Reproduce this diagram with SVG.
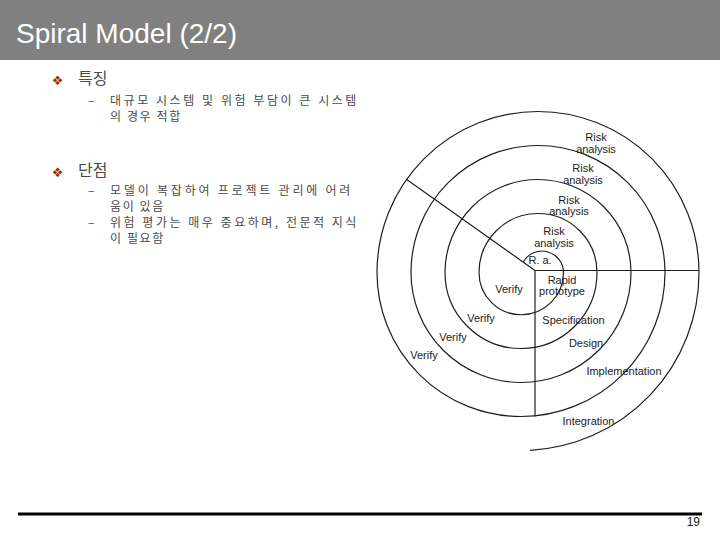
<svg xmlns="http://www.w3.org/2000/svg" width="720" height="540" viewBox="0 0 720 540">
<style>
.kr{font-family:"Noto Sans CJK KR","Noto Sans",sans-serif;fill:#4a4a4a}
.h{font-size:16px}
.b{font-size:12px;letter-spacing:1.6px}
.bul{font-family:"DejaVu Sans",sans-serif;font-size:13px;fill:#993300;text-anchor:middle}
.lbl{font-family:"Liberation Sans",Arial,sans-serif;font-size:11px;fill:#222;text-anchor:middle}
.sp{fill:none;stroke:#1e1e1e;stroke-width:1.2}
</style>
<rect width="720" height="540" fill="#fff"/>
<g id="header">
<rect x="0" y="0" width="720" height="60" fill="#808080"/>
<text x="16" y="43" font-family="Liberation Sans, Arial, sans-serif" font-size="28" fill="#fff">Spiral Model (2/2)</text>
</g>
<g id="text-body">
<text class="bul" x="57.5" y="85">❖</text>
<text class="kr h" x="78" y="84">특징</text>
<text class="kr b" x="88" y="105">–</text>
<text class="kr b" x="110" y="105" textLength="248" lengthAdjust="spacing">대규모 시스템 및 위험 부담이 큰 시스템</text>
<text class="kr b" x="110" y="121">의 경우 적합</text>
<text class="bul" x="57.5" y="177">❖</text>
<text class="kr h" x="78" y="176">단점</text>
<text class="kr b" x="88" y="195">–</text>
<text class="kr b" x="110" y="195" textLength="242" lengthAdjust="spacing">모델이 복잡하여 프로젝트 관리에 어려</text>
<text class="kr b" x="110" y="211">움이 있음</text>
<text class="kr b" x="88" y="227">–</text>
<text class="kr b" x="110" y="227" textLength="248" lengthAdjust="spacing">위험 평가는 매우 중요하며, 전문적 지식</text>
<text class="kr b" x="110" y="243">이 필요함</text>
</g>
<g id="connectors">
<path class="sp" d="M523.2,262.1 A21.5,21.5 0 0 1 563.5,272.5 A42.25,42.25 0 0 1 479,272.5 A59,59 0 0 1 597,272.5 A76,76 0 0 1 445,272.5 A93,93 0 0 1 631,272.5 A110,110 0 0 1 411,272.5 A127,127 0 0 1 665,272.5 A144,144 0 0 1 377,272.5 A161,161 0 0 1 699,272.5 A178,178 0 0 1 530,450.3"/>
<path class="sp" d="M535,270.5 H699 M535,270.5 V416.5 M535,270.5 L406,179"/>
</g>
<g id="risk1"><text class="lbl" x="596" y="141">Risk</text><text class="lbl" x="596" y="152.5">analysis</text></g>
<g id="risk2"><text class="lbl" x="583" y="172">Risk</text><text class="lbl" x="583" y="183.5">analysis</text></g>
<g id="risk3"><text class="lbl" x="569" y="203.5">Risk</text><text class="lbl" x="569" y="215">analysis</text></g>
<g id="risk4"><text class="lbl" x="554" y="235">Risk</text><text class="lbl" x="554" y="246.5">analysis</text></g>
<g id="ra"><text class="lbl" x="540" y="263.5">R. a.</text></g>
<g id="rapid"><text class="lbl" x="562" y="284">Rapid</text><text class="lbl" x="562" y="295">prototype</text></g>
<g id="spec"><text class="lbl" x="573.5" y="324">Specification</text></g>
<g id="design"><text class="lbl" x="586" y="347">Design</text></g>
<g id="impl"><text class="lbl" x="624" y="375">Implementation</text></g>
<g id="integ"><text class="lbl" x="588.5" y="425">Integration</text></g>
<g id="verify1"><text class="lbl" x="509" y="292.5">Verify</text></g>
<g id="verify2"><text class="lbl" x="481" y="321.5">Verify</text></g>
<g id="verify3"><text class="lbl" x="453" y="340.5">Verify</text></g>
<g id="verify4"><text class="lbl" x="424" y="358.5">Verify</text></g>
<g id="footer">
<line x1="18" y1="514" x2="702" y2="514" stroke="#000" stroke-width="3"/>
<text x="700" y="526" font-family="Liberation Sans, Arial, sans-serif" font-size="12" fill="#222" text-anchor="end">19</text>
</g>
</svg>
